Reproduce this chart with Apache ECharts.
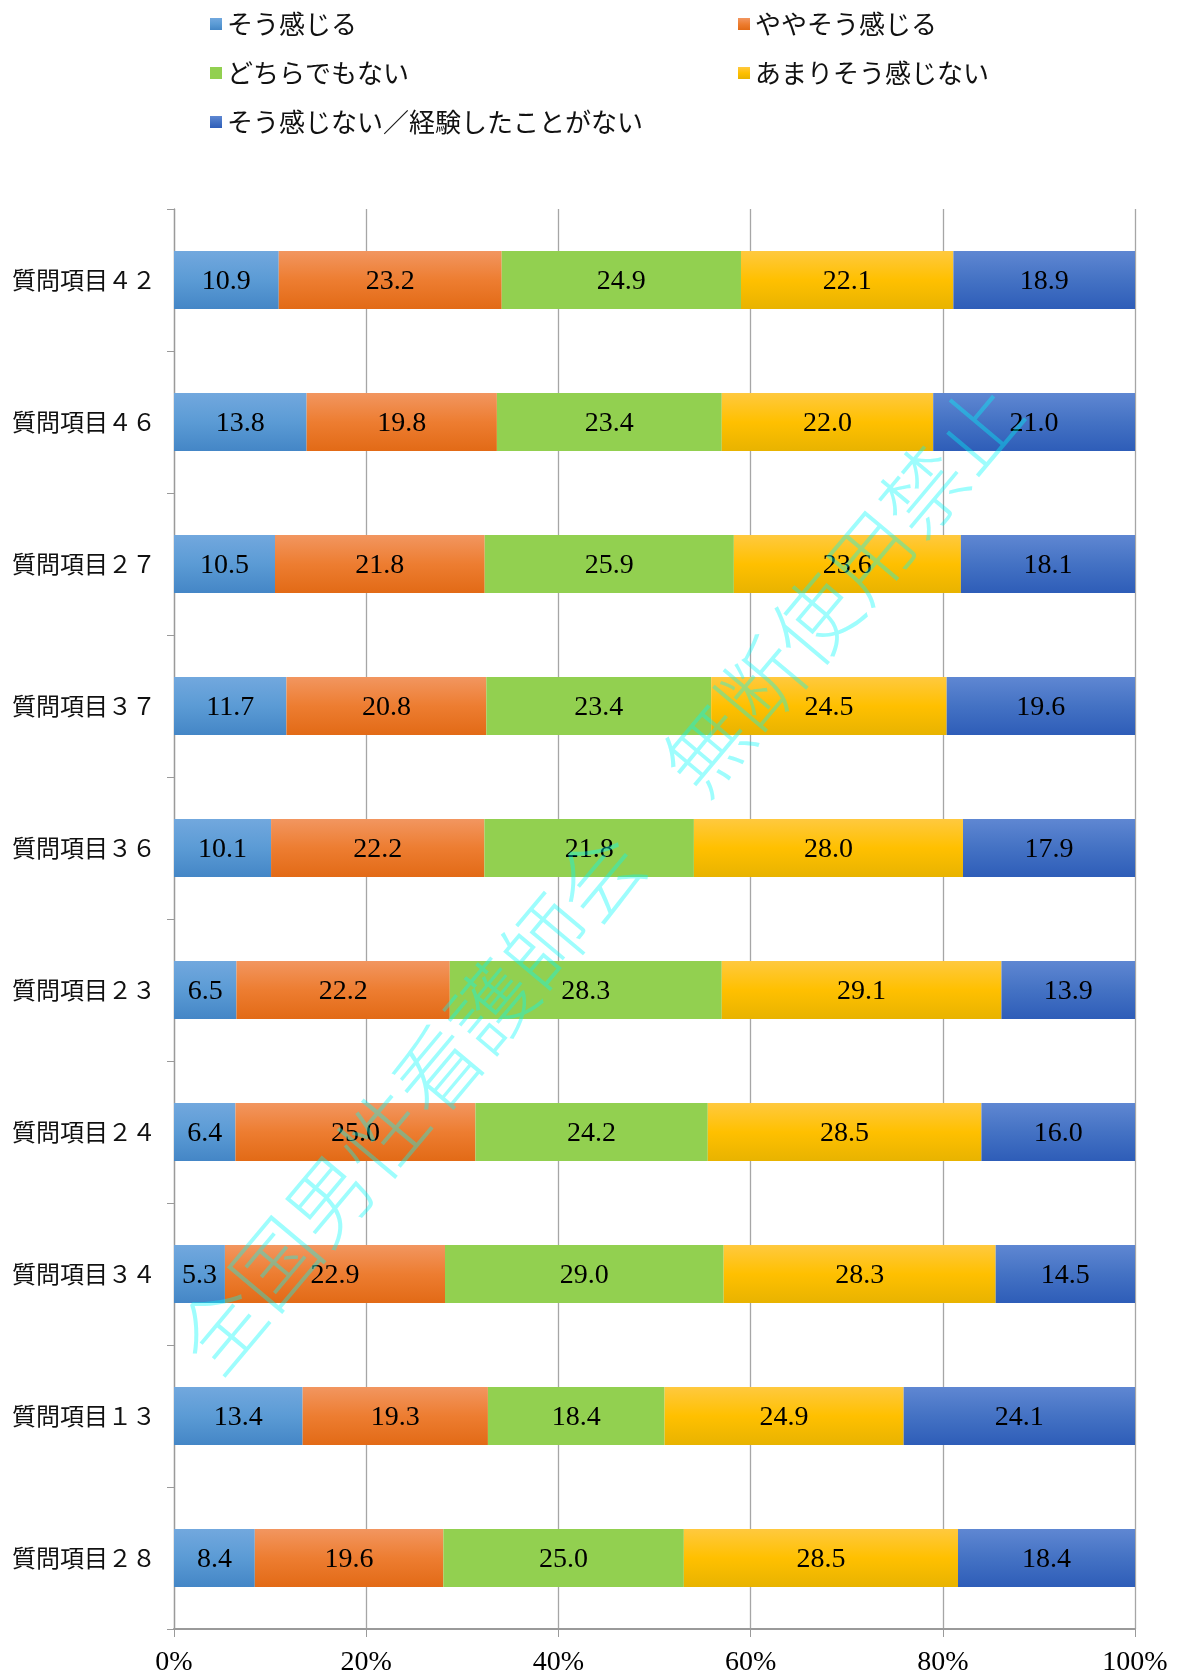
<!DOCTYPE html>
<html>
<head>
<meta charset="utf-8">
<script src="https://cdn.jsdelivr.net/npm/echarts@6/dist/echarts.min.js"></script>
<style>
html, body { margin: 0; padding: 0; background: #fff; }
#chart { width: 1178px; height: 1677px; }
</style>
</head>
<body>
<div id="chart"></div>
<script>
var categories = ['質問項目４２', '質問項目４６', '質問項目２７', '質問項目３７', '質問項目３６',
                  '質問項目２３', '質問項目２４', '質問項目３４', '質問項目１３', '質問項目２８'];
var seriesNames = ['そう感じる', 'ややそう感じる', 'どちらでもない', 'あまりそう感じない', 'そう感じない／経験したことがない'];
var agree      = [10.9, 13.8, 10.5, 11.7, 10.1, 6.5, 6.4, 5.3, 13.4, 8.4];
var someAgree  = [23.2, 19.8, 21.8, 20.8, 22.2, 22.2, 25.0, 22.9, 19.3, 19.6];
var neutral    = [24.9, 23.4, 25.9, 23.4, 21.8, 28.3, 24.2, 29.0, 18.4, 25.0];
var notMuch    = [22.1, 22.0, 23.6, 24.5, 28.0, 29.1, 28.5, 28.3, 24.9, 28.5];
var disagree   = [18.9, 21.0, 18.1, 19.6, 17.9, 13.9, 16.0, 14.5, 24.1, 18.4];
var xTicks = [0, 20, 40, 60, 80, 100];

var allData = [agree, someAgree, neutral, notMuch, disagree];

function grad(top, mid, bottom) {
    return {
        type: 'linear', x: 0, y: 0, x2: 0, y2: 1,
        colorStops: [
            {offset: 0, color: top},
            {offset: 0.5, color: mid},
            {offset: 1, color: bottom}
        ]
    };
}
var colors = [
    grad('#72a8de', '#5b9bd5', '#4486c6'),
    grad('#f29660', '#ed7d31', '#e26a16'),
    grad('#92d050', '#92d050', '#92d050'),
    grad('#ffc93f', '#ffc000', '#e8b300'),
    grad('#5f87d2', '#4472c4', '#2e5db8')
];

// 100% stacked: bar length is share of row total, label shows the raw value
var totals = categories.map(function (c, i) {
    var s = 0;
    allData.forEach(function (arr) { s += arr[i]; });
    return s;
});

var myChart = echarts.init(document.getElementById('chart'));

var series = seriesNames.map(function (name, k) {
    return {
        name: name,
        type: 'bar',
        stack: 'total',
        barCategoryGap: '59%',
        itemStyle: { color: colors[k] },
        label: {
            show: true,
            position: 'inside',
            offset: [0, 2],
            color: '#000',
            fontFamily: 'Liberation Serif',
            fontSize: 28,
            formatter: function (p) { return allData[k][p.dataIndex].toFixed(1); }
        },
        data: allData[k].map(function (v, i) { return v / totals[i] * 100; })
    };
});

var legendText = { fontFamily: 'Noto Sans CJK JP', fontSize: 26, color: '#111', lineHeight: 30 };

var option = {
    animation: false,
    legend: [
        {
            orient: 'vertical', left: 205, top: 9, padding: [0, 5],
            itemWidth: 12, itemHeight: 12, itemGap: 19, icon: 'rect',
            textStyle: legendText,
            data: [seriesNames[0], seriesNames[2], seriesNames[4]]
        },
        {
            orient: 'vertical', left: 733, top: 9, padding: [0, 5],
            itemWidth: 12, itemHeight: 12, itemGap: 19, icon: 'rect',
            textStyle: legendText,
            data: [seriesNames[1], seriesNames[3]]
        }
    ],
    grid: { left: 174, right: 43, top: 209, bottom: 47, containLabel: false },
    xAxis: {
        type: 'value',
        min: 0, max: 100, interval: 20,
        axisLine: { show: true, lineStyle: { color: '#9a9a9a', width: 2 } },
        axisTick: { show: true, length: 8, lineStyle: { color: '#9a9a9a' } },
        splitLine: { show: true, lineStyle: { color: '#a6a6a6', width: 1.3 } },
        axisLabel: {
            margin: 20,
            color: '#000',
            fontFamily: 'Liberation Serif',
            fontSize: 28,
            formatter: function (v) { return xTicks.indexOf(v) >= 0 ? v + '%' : ''; }
        }
    },
    yAxis: {
        type: 'category',
        inverse: true,
        data: categories,
        axisLine: { show: true, lineStyle: { color: '#9a9a9a', width: 1.3 } },
        axisTick: { show: true, length: 7, lineStyle: { color: '#9a9a9a' } },
        axisLabel: {
            margin: 18,
            color: '#111',
            fontFamily: 'Noto Sans CJK JP',
            fontSize: 24
        }
    },
    series: series,
    graphic: [
        {
            type: 'text',
            x: 599, y: 877,
            rotation: 50 * Math.PI / 180,
            z: 100,
            silent: true,
            style: {
                text: '全国男性看護師会　無断使用禁止',
                fontFamily: 'Noto Sans CJK JP',
                fontWeight: 300,
                fontSize: 84,
                fill: 'rgba(0,250,250,0.38)',
                align: 'center',
                verticalAlign: 'middle'
            }
        }
    ]
};

myChart.setOption(option);
</script>
</body>
</html>
